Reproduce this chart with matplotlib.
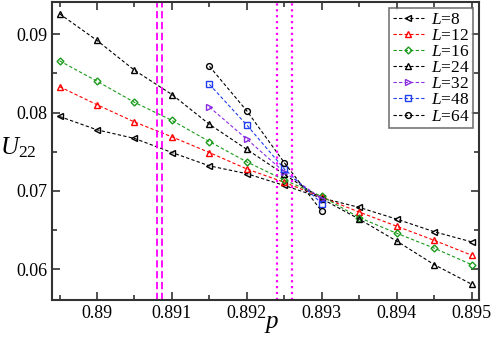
import numpy as np
import matplotlib
matplotlib.use("Agg")
import matplotlib.pyplot as plt
from matplotlib.ticker import MultipleLocator

# ── Data ──────────────────────────────────────────────────────────────────────
p_all = [0.8895, 0.8900, 0.8905, 0.8910, 0.8915, 0.8920, 0.8925,
         0.8930, 0.8935, 0.8940, 0.8945, 0.8950]
p_big = [0.8915, 0.8920, 0.8925, 0.8930]

u_L8  = [0.0795, 0.0778, 0.0767, 0.0749, 0.0732, 0.0722, 0.0707,
         0.0691, 0.0679, 0.0664, 0.0648, 0.0635]
u_L12 = [0.0833, 0.0810, 0.0788, 0.0769, 0.0749, 0.0728, 0.0711,
         0.0692, 0.0673, 0.0655, 0.0637, 0.0618]
u_L16 = [0.0866, 0.0840, 0.0813, 0.0790, 0.0763, 0.0737, 0.0714,
         0.0693, 0.0666, 0.0646, 0.0627, 0.0606]
u_L24 = [0.0926, 0.0892, 0.0854, 0.0823, 0.0785, 0.0753, 0.0721,
         0.0690, 0.0664, 0.0636, 0.0606, 0.0581]
u_L32 = [0.0807, 0.0766, 0.0724, 0.0690]
u_L48 = [0.0836, 0.0784, 0.0728, 0.0684]
u_L64 = [0.0859, 0.0802, 0.0736, 0.0674]

labels = ["8", "12", "16", "24", "32", "48", "64"]
p_dashed = [0.89080, 0.89087]
p_dotted = [0.89240, 0.89260]

# ── Style ─────────────────────────────────────────────────────────────────────
plt.rcParams["font.family"] = "Liberation Serif"
plt.rcParams["mathtext.fontset"] = "custom"
plt.rcParams["mathtext.rm"] = "Liberation Serif"
plt.rcParams["mathtext.it"] = "Liberation Serif:italic"

series = [
    (p_all, u_L8,  "black",   "<"),
    (p_all, u_L12, "red",     "^"),
    (p_all, u_L16, "#1a9a1a", "D"),
    (p_all, u_L24, "black",   "^"),
    (p_big, u_L32, "#8a2be2", ">"),
    (p_big, u_L48, "#1f3ff0", "s"),
    (p_big, u_L64, "black",   "o"),
]

fig = plt.figure(figsize=(4.91, 3.37), dpi=100)
ax = fig.add_axes([0.106, 0.11, 0.87, 0.884])

for (px, u, c, m), lab in zip(series, labels):
    ms = 3.5 if m == "D" else 4.2
    ax.plot(px, u, ls="--", lw=0.8, color=c, marker=m, ms=ms,
            mfc="none", mec=c, mew=1.0, label=f"$L$={lab}",
            dashes=(3, 2))

for xv in p_dashed:
    ax.axvline(xv, color="#ff00ff", ls="--", lw=1.3, dashes=(4, 2))
for xv in p_dotted:
    ax.axvline(xv, color="#ff00ff", ls=":", lw=1.6)

ax.set_xlim(0.88940, 0.89510)
ax.set_ylim(0.0561, 0.0941)
ax.xaxis.set_major_locator(MultipleLocator(0.001))
ax.xaxis.set_minor_locator(MultipleLocator(0.0005))
ax.yaxis.set_major_locator(MultipleLocator(0.01))
ax.yaxis.set_minor_locator(MultipleLocator(0.005))
ax.xaxis.set_major_formatter(plt.FuncFormatter(lambda v, _: f"{v:.3f}".rstrip("0")))
ax.yaxis.set_major_formatter(plt.FuncFormatter(lambda v, _: f"{v:.2f}"))

ax.tick_params(which="both", direction="in", top=True, right=True,
               color="#333333", labelsize=13)
ax.tick_params(which="major", length=6, width=1.2)
ax.tick_params(which="minor", length=3.5, width=1.2)
for sp in ax.spines.values():
    sp.set_linewidth(1.5)
    sp.set_color("#333333")

ax.set_xlabel("$p$", fontsize=18)
ax.xaxis.set_label_coords(0.515, -0.045)
ax.set_ylabel("$U_{22}$", fontsize=18, rotation=0)
ax.yaxis.set_label_coords(-0.08, 0.47)

leg = ax.legend(loc="upper right", fontsize=12.5, frameon=True, fancybox=False,
                edgecolor="#555555", handlelength=1.8, handletextpad=0.4,
                labelspacing=0.0, borderpad=0.2, borderaxespad=0.35)
leg.get_frame().set_linewidth(1.2)

fig.savefig("out.png", dpi=100)
